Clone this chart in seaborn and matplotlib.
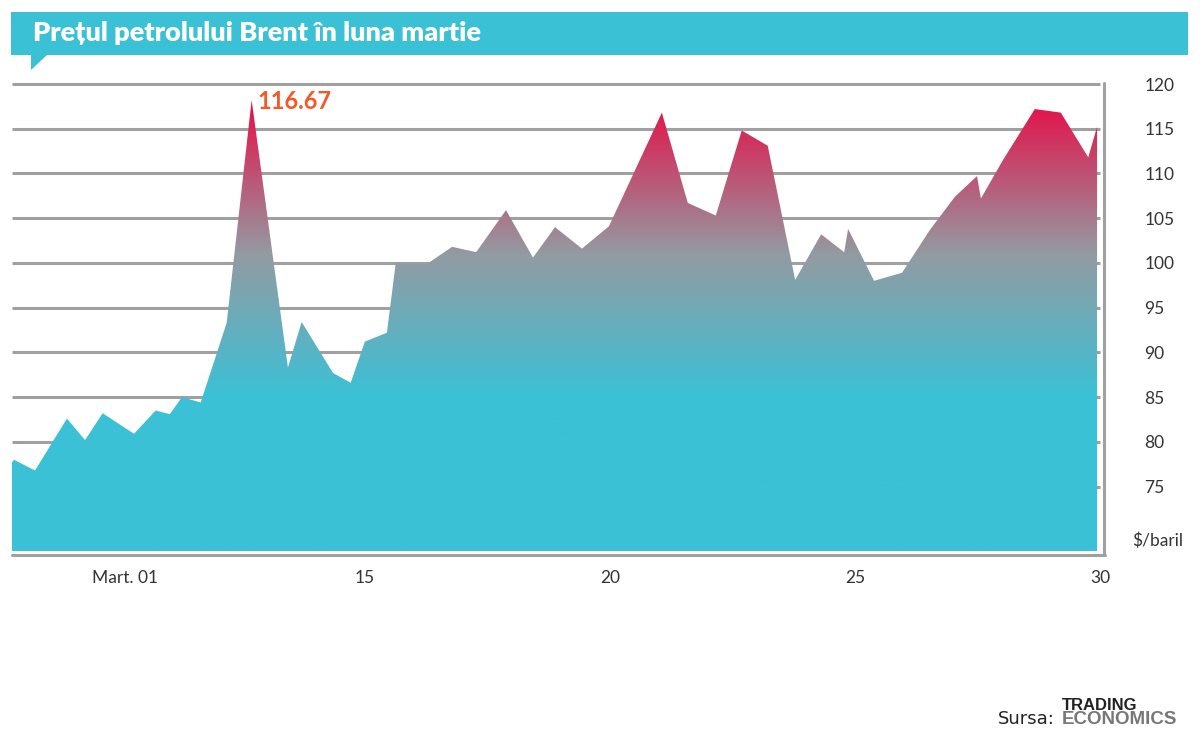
import matplotlib
matplotlib.use('Agg')
import matplotlib.pyplot as plt
from matplotlib.colors import Normalize
from matplotlib.lines import Line2D
from matplotlib.patches import Rectangle, Polygon
import numpy as np
import pandas as pd
import seaborn as sns

# Brent price in March (day = position on the day axis)
day = [7.80, 7.84, 8.27, 8.92, 9.29, 9.65, 10.29, 10.73, 11.02, 11.27, 11.65,
       12.18, 12.69, 13.43, 13.71, 14.35, 14.71, 15.00, 15.45, 15.63, 15.78,
       16.27, 16.78, 17.27, 17.88, 18.43, 18.88, 19.43, 19.98, 21.06, 21.59,
       22.16, 22.69, 23.22, 23.78, 24.31, 24.78, 24.86, 25.39, 25.96, 26.53,
       27.04, 27.49, 27.57, 28.02, 28.67, 29.20, 29.76, 29.94]
price = [77.7, 78.0, 76.8, 82.6, 80.2, 83.2, 80.9, 83.5, 83.1, 85.0, 84.4,
         93.3, 118.2, 88.3, 93.4, 87.7, 86.6, 91.2, 92.2, 100.0, 99.9,
         99.9, 101.8, 101.2, 105.9, 100.6, 104.0, 101.6, 104.1, 116.8, 106.7,
         105.3, 114.8, 113.1, 98.1, 103.2, 101.2, 103.8, 98.0, 98.9, 103.7,
         107.4, 109.7, 107.2, 111.5, 117.2, 116.8, 111.8, 115.2]

x_ticks = [10.1, 15, 20, 25, 30]
x_labels = ['Mart. 01', '15', '20', '25', '30']
y_ticks = [75, 80, 85, 90, 95, 100, 105, 110, 115, 120]
peak_label = '116.67'
title = 'Prețul petrolului Brent în luna martie'

df = pd.DataFrame({'day': day, 'price': price})

sns.set_theme(style='white')
plt.rcParams['font.family'] = ['Lato', 'DejaVu Sans']

TEAL = '#3BC1D6'
GRID = '#A0A0A0'
ymin = 67.8
x0, x1 = 7.8, 30

fig = plt.figure(figsize=(12, 7.5), dpi=100)
ax = fig.add_axes([12 / 1200, 1 - 551 / 750, 1088 / 1200, 467 / 750])

# gridlines behind the area
ax.hlines(y_ticks, x0, x1, colors=GRID, linewidth=2.2, zorder=1, clip_on=False)

# area with vertical gradient teal -> grey -> crimson
cmap = sns.blend_palette([TEAL, '#939BA2', '#E0194F'], as_cmap=True)
area = ax.fill_between(df['day'], df['price'], ymin, facecolor='none',
                       edgecolor='none', zorder=2)
grad = np.linspace(ymin, 120, 500).reshape(-1, 1)
img = ax.imshow(grad, cmap=cmap, norm=Normalize(85, 117, clip=True),
                origin='lower', aspect='auto', extent=[x0, x1, ymin, 120],
                zorder=2, interpolation='bilinear')
img.set_clip_path(area.get_paths()[0], transform=ax.transData)

ax.set_xlim(x0, x1)
ax.set_ylim(ymin, 120)

# peak label
ipk = df['price'].idxmax()
ax.text(df['day'][ipk] + 0.12, df['price'][ipk] - 0.2, peak_label,
        color='#F15A29', fontweight='bold', fontsize=17, va='center',
        ha='left', zorder=4, clip_on=False)

# axes, ticks
sns.despine(ax=ax, left=True, bottom=True)
ax.yaxis.tick_right()
ax.set_yticks(y_ticks)
ax.set_xticks(x_ticks, x_labels)
ax.tick_params(axis='y', length=0, pad=32, labelsize=12.5, labelcolor='#333333')
ax.tick_params(axis='x', length=0, pad=14, labelsize=12.5, labelcolor='#333333')
ax.grid(False)
fig.text(1132 / 1200, 1 - 541 / 750, r'\$/baril', fontsize=12.5,
         color='#333333', va='center', ha='left')

# grey frame on the right and bottom
fig.add_artist(Line2D([1104 / 1200] * 2, [1 - 83 / 750, 1 - 555 / 750],
                      color=GRID, linewidth=2.2))
fig.add_artist(Line2D([12 / 1200, 1105 / 1200], [1 - 555 / 750] * 2,
                      color=GRID, linewidth=2.2))

# title banner
fig.add_artist(Rectangle((11 / 1200, 1 - 55 / 750), 1177 / 1200, 43 / 750,
                         transform=fig.transFigure, color=TEAL, lw=0))
fig.add_artist(Polygon([(31 / 1200, 1 - 55 / 750), (47 / 1200, 1 - 55 / 750),
                        (31 / 1200, 1 - 70 / 750)], closed=True,
                       transform=fig.transFigure, color=TEAL, lw=0))
fig.text(33 / 1200, 1 - 33 / 750, title, color='white', fontweight='heavy',
         fontsize=19.5, va='center', ha='left')

# source
fig.text(998 / 1200, 1 - 719 / 750, 'Sursa:', fontsize=13, color='#222222',
         va='center', ha='left', family=['DejaVu Sans'])
fig.text(1062 / 1200, 1 - 705 / 750, 'TRADING', fontsize=12, color='#222222',
         fontweight='bold', va='center', ha='left', family=['Liberation Sans'])
fig.text(1062 / 1200, 1 - 719 / 750, 'ECONOMICS', fontsize=13.5, color='#777777',
         fontweight='bold', va='center', ha='left', family=['Liberation Sans'])

fig.savefig('out.png', dpi=100)
